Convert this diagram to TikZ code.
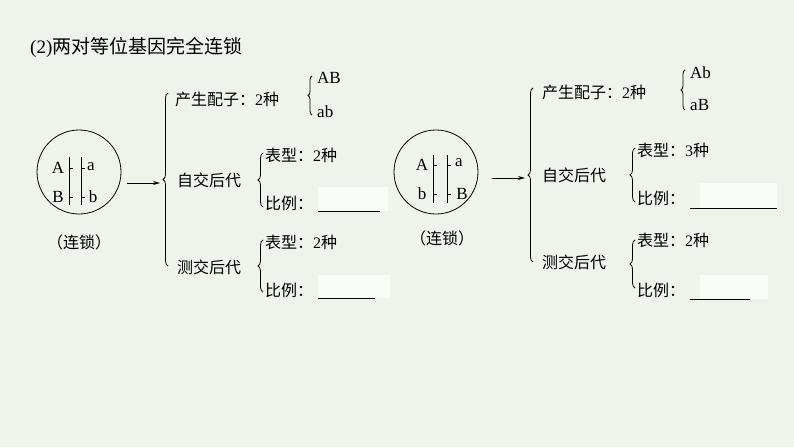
\documentclass[tikz,border=0pt]{standalone}
\usepackage{fontspec}
\setmainfont{Liberation Serif}
\newfontfamily\cjk{Noto Sans CJK SC}
\usetikzlibrary{decorations.pathreplacing,arrows.meta}
\definecolor{bg}{HTML}{EEF4EC}
\definecolor{ans}{HTML}{F8FBF6}
\tikzset{
 t/.style={font=\cjk\fontsize{16}{18}\selectfont,inner sep=0pt,anchor=west},
 l/.style={font=\fontsize{17}{19}\selectfont,inner sep=0pt},
 br/.style={decorate,decoration={brace,amplitude=5pt},line width=0.8pt},
 ln/.style={line width=0.8pt},
 box/.style={fill=ans,draw=none},
}
\begin{document}
\begin{tikzpicture}[x=1pt,y=-1pt]
\fill[bg] (0,0) rectangle (794,447);
\useasboundingbox (0,0) rectangle (794,447);
\node[t,font=\cjk\fontsize{19}{21}\selectfont] (title) at (30,47) {\fontspec{Liberation Serif}(2)\cjk 两对等位基因完全连锁};
% ---------- left
\node[circle,draw,ln,minimum size=84pt] (c1) at (79,172) {};
\node[l] (a1) at (58,168) {A};
\node[l] (b1) at (58,197) {B};
\node[l] (a2) at (91,167) {a};
\node[l] (b2) at (93,197) {b};
\draw[ln] (69,157) -- (69,205) (81,157) -- (81,205);
\draw[ln] (69,168)--(73,168) (69,197)--(73,197) (81,168)--(85,168) (81,197)--(85,197);
\node[t,anchor=center] (k1) at (79,242) {（连锁）};
\coordinate (p1) at (160,183);
\draw[ln,-{Stealth[length=7pt,width=4pt]}] (c1.east)++(6,11) -- (p1);
\draw[br] (168,266) -- (168,93);
\node[t] (g1) at (175,99) {产生配子：\fontspec{Liberation Serif}2\cjk 种};
\draw[br,decoration={amplitude=4pt}] (312,115) -- (312,76);
\node[l,anchor=west] (ab1) at (317,78) {AB};
\node[l,anchor=west] (ab2) at (317,112) {ab};
\node[t] (s1) at (177,180) {自交后代};
\draw[br] (263,207) -- (263,153);
\node[t] (s1a) at (265,155) {表型：\fontspec{Liberation Serif}2\cjk 种};
\fill[box] (318,187) rectangle (388,211);
\node[t] (s1b) at (265,203) {比例：};
\draw[ln] (318,211) -- (380,211);
\node[t] (s2) at (177,267) {测交后代};
\draw[br] (263,292) -- (263,240);
\node[t] (s2a) at (265,242) {表型：\fontspec{Liberation Serif}2\cjk 种};
\fill[box] (318,275) rectangle (390,298);
\node[t] (s2b) at (265,290) {比例：};
\draw[ln] (318,298) -- (375,298);
% ---------- right
\node[circle,draw,ln,minimum size=84pt] (c2) at (436,172) {};
\node[l] (A3) at (422,165) {A};
\node[l] (b3) at (422,194) {b};
\node[l] (a4) at (459,163) {a};
\node[l] (B4) at (462,194) {B};
\draw[ln] (433,155) -- (433,203) (447,155) -- (447,203);
\draw[ln] (433,165)--(437,165) (433,194)--(437,194) (447,165)--(451,165) (447,194)--(451,194);
\node[t,anchor=center] (k2) at (442,238) {（连锁）};
\coordinate (p2) at (525,178);
\draw[ln,-{Stealth[length=7pt,width=4pt]}] (492,178) -- (p2);
\draw[br] (533,262) -- (533,88);
\node[t] (g2) at (542,92) {产生配子：\fontspec{Liberation Serif}2\cjk 种};
\draw[br,decoration={amplitude=4pt}] (685,110) -- (685,70);
\node[l,anchor=west] (ab3) at (690,73) {Ab};
\node[l,anchor=west] (ab4) at (690,105) {aB};
\node[t] (s3) at (542,175) {自交后代};
\draw[br] (635,202) -- (635,148);
\node[t] (s3a) at (637,150) {表型：\fontspec{Liberation Serif}3\cjk 种};
\fill[box] (700,183) rectangle (777,208);
\node[t] (s3b) at (637,198) {比例：};
\draw[ln] (690,208) -- (777,208);
\node[t] (s4) at (542,262) {测交后代};
\draw[br] (635,288) -- (635,240);
\node[t] (s4a) at (637,240) {表型：\fontspec{Liberation Serif}2\cjk 种};
\fill[box] (700,275) rectangle (768,299);
\node[t] (s4b) at (637,290) {比例：};
\draw[ln] (690,299) -- (750,299);
\end{tikzpicture}
\end{document}
